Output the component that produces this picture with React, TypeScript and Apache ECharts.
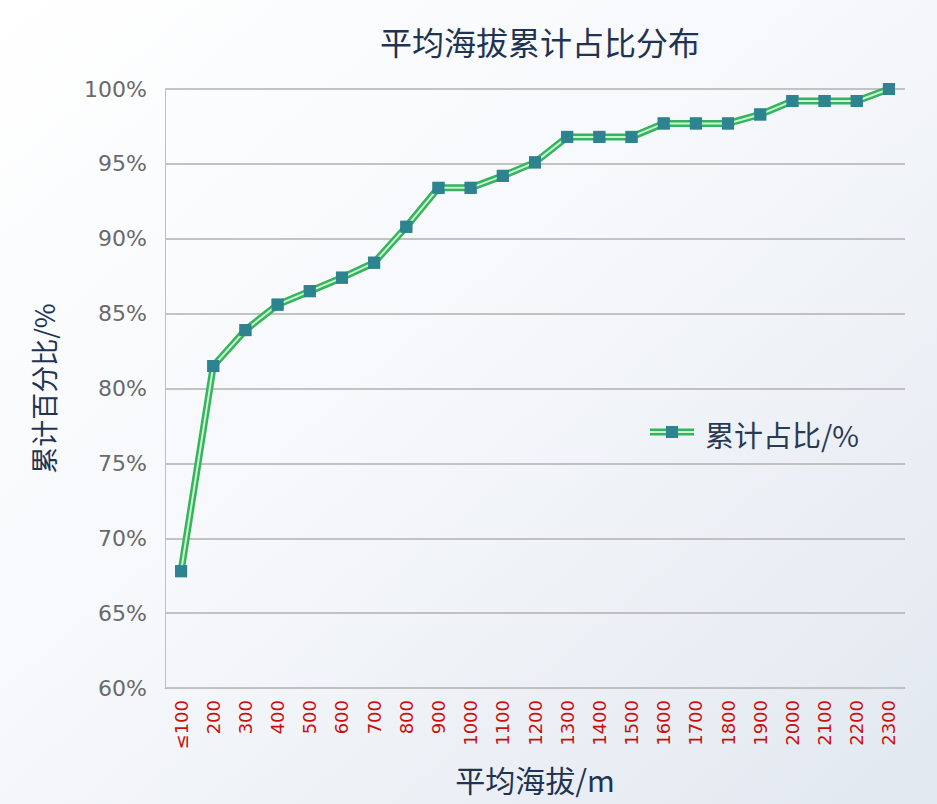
import React, { useEffect, useRef } from "react";
import * as echarts from "echarts";

// Altitude bands (m) and cumulative share (%)
const altitudeBands = [
  "≤100", "200", "300", "400", "500", "600", "700", "800", "900", "1000",
  "1100", "1200", "1300", "1400", "1500", "1600", "1700", "1800", "1900",
  "2000", "2100", "2200", "2300",
];
const cumulativeShare = [
  67.8, 81.5, 83.9, 85.6, 86.5, 87.4, 88.4, 90.8, 93.4, 93.4,
  94.2, 95.1, 96.8, 96.8, 96.8, 97.7, 97.7, 97.7, 98.3,
  99.2, 99.2, 99.2, 100,
];
const yTicks = { min: 60, max: 100, interval: 5 };

const LATIN = "'DejaVu Sans', 'Noto Sans', sans-serif";
const CJK = "'Noto Sans CJK SC', 'Noto Sans', sans-serif";

const OUTER_GREEN = "#36b35e";
const INNER_GREEN = "#c8f5d0";
const MARKER_TEAL = "#2d8390";

export default function App() {
  const ref = useRef<HTMLDivElement>(null);

  useEffect(() => {
    if (!ref.current) return;
    const chart = echarts.init(ref.current, undefined, { renderer: "svg" });
    const seriesName = "累计占比/%";

    // legend swatch: double line with a square marker
    const swatchX = 650;
    const swatchY = 432;
    const swatchW = 44;

    chart.setOption({
      animation: false,
      backgroundColor: {
        type: "linear",
        x: 0,
        y: 0,
        x2: 1,
        y2: 1,
        colorStops: [
          { offset: 0, color: "#ffffff" },
          { offset: 0.45, color: "#f6f8fb" },
          { offset: 1, color: "#e2e8f0" },
        ],
      },
      title: {
        text: "平均海拔累计占比分布",
        left: 535,
        top: 20,
        textAlign: "center",
        textStyle: {
          fontFamily: CJK,
          fontSize: 32,
          fontWeight: "normal",
          color: "#1f3352",
        },
      },
      legend: {
        data: [seriesName],
        left: swatchX,
        top: 414,
        itemWidth: swatchW,
        itemHeight: 14,
        itemGap: 4,
        itemStyle: { opacity: 0 },
        lineStyle: { opacity: 0 },
        textStyle: {
          fontFamily: CJK,
          fontSize: 29,
          color: "#2a3a52",
        },
      },
      graphic: [
        {
          type: "group",
          silent: true,
          z: 100,
          children: [
            {
              type: "line",
              shape: { x1: swatchX, y1: swatchY, x2: swatchX + swatchW, y2: swatchY },
              style: { stroke: OUTER_GREEN, lineWidth: 7 },
            },
            {
              type: "line",
              shape: { x1: swatchX, y1: swatchY, x2: swatchX + swatchW, y2: swatchY },
              style: { stroke: INNER_GREEN, lineWidth: 2 },
            },
            {
              type: "rect",
              shape: { x: swatchX + swatchW / 2 - 6, y: swatchY - 6, width: 12, height: 12 },
              style: { fill: MARKER_TEAL },
            },
          ],
        },
      ],
      grid: { left: 165, right: 32, top: 89, bottom: 116 },
      xAxis: {
        type: "category",
        data: altitudeBands,
        boundaryGap: true,
        name: "平均海拔/m",
        nameLocation: "middle",
        nameGap: 76,
        nameTextStyle: { fontFamily: CJK, fontSize: 30, color: "#1f3352" },
        axisLine: { show: true, lineStyle: { color: "#bfbfbf", width: 1 } },
        axisTick: { show: false },
        axisLabel: {
          rotate: 90,
          margin: 12,
          fontFamily: LATIN,
          fontSize: 18,
          color: "#c81010",
          interval: 0,
        },
      },
      yAxis: {
        type: "value",
        min: yTicks.min,
        max: yTicks.max,
        interval: yTicks.interval,
        name: "累计百分比/%",
        nameLocation: "middle",
        nameGap: 108,
        nameRotate: 90,
        nameTextStyle: { fontFamily: CJK, fontSize: 27, color: "#1f3352" },
        axisLine: { show: true, lineStyle: { color: "#bfbfbf", width: 1 } },
        axisTick: { show: false },
        axisLabel: {
          margin: 18,
          fontFamily: LATIN,
          fontSize: 22,
          color: "#6a6a6a",
          formatter: (v: number) => `${v}%`,
        },
        splitLine: { lineStyle: { color: "#b0b0b0", width: 1.5 } },
      },
      series: [
        {
          // outer green stroke of the double line
          name: seriesName,
          type: "line",
          data: cumulativeShare,
          symbol: "rect",
          symbolSize: 12,
          itemStyle: { color: MARKER_TEAL },
          lineStyle: { color: OUTER_GREEN, width: 7 },
          z: 2,
        },
        {
          // pale inner stroke
          name: "inner",
          type: "line",
          data: cumulativeShare,
          symbol: "none",
          lineStyle: { color: INNER_GREEN, width: 2 },
          silent: true,
          z: 3,
        },
        {
          // square markers on top
          name: "markers",
          type: "line",
          data: cumulativeShare,
          symbol: "rect",
          symbolSize: 12,
          itemStyle: { color: MARKER_TEAL },
          lineStyle: { opacity: 0, width: 0 },
          silent: true,
          z: 4,
        },
      ],
    });
    return () => chart.dispose();
  }, []);

  return (
    <div
      ref={ref}
      style={{ position: "fixed", left: 0, top: 0, width: 937, height: 804 }}
    />
  );
}
